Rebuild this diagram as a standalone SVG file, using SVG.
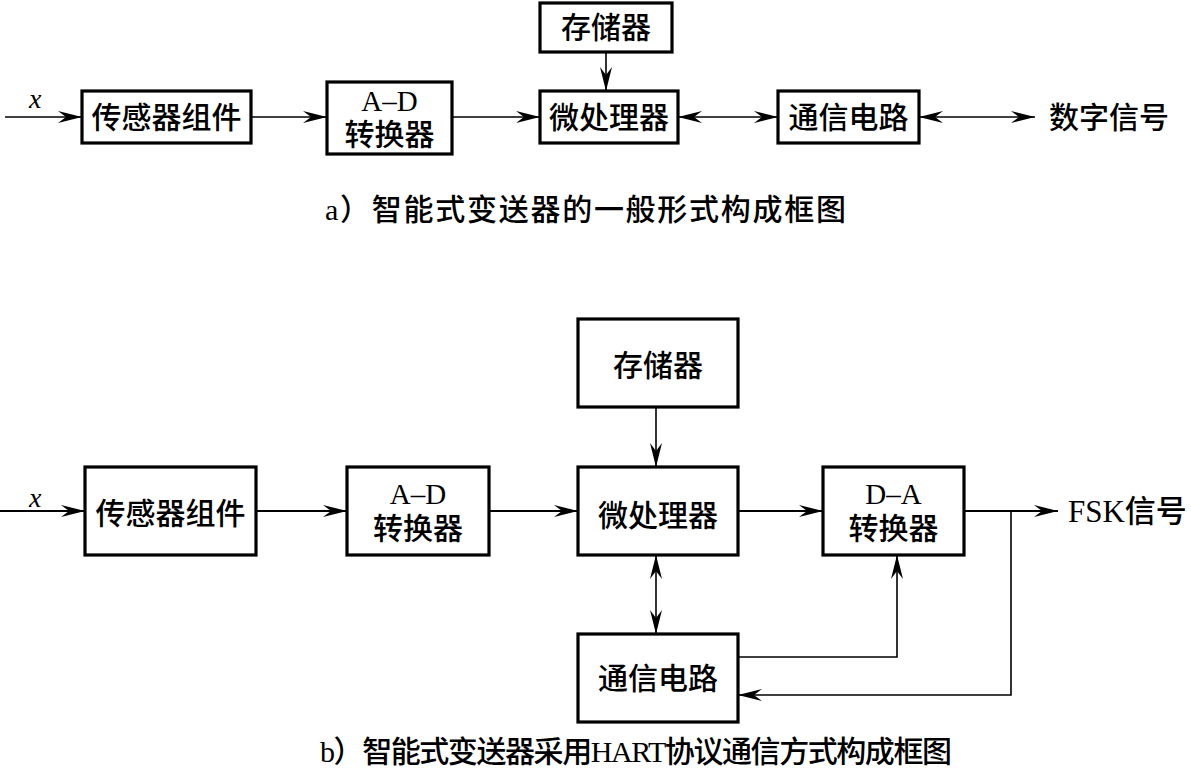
<svg xmlns="http://www.w3.org/2000/svg" width="1191" height="771" viewBox="0 0 1191 771">
<style>
.box{fill:#fff;stroke:#000;stroke-width:3.2}
.cn{fill:none;stroke:#000;stroke-width:1.6}
.cn2{fill:none;stroke:#000;stroke-width:2}
.t{font-family:"Liberation Serif","Noto Sans CJK SC",serif;font-size:30px;font-weight:500;fill:#000;text-anchor:middle;dominant-baseline:central}
.lt{font-family:"Liberation Serif","Noto Sans CJK SC",serif;font-size:29px;fill:#000;text-anchor:middle;dominant-baseline:central}
.cap{font-family:"Liberation Serif","Noto Sans CJK SC",serif;font-size:30px;font-weight:500;fill:#000}
.x{font-family:"Liberation Serif",serif;font-style:italic;font-size:28px;fill:#000}
</style>
<defs>
<marker id="ah" viewBox="-26 -7 27 14" refX="0" refY="0" markerWidth="27" markerHeight="14" markerUnits="userSpaceOnUse" orient="auto-start-reverse">
<path d="M0,0 L-24,-6 L-16,0 L-24,6 Z" fill="#000"/>
</marker>
</defs>
<rect width="1191" height="771" fill="#fff"/>

<g id="connectors-a">
<line class="cn" x1="5" y1="117" x2="82" y2="117" marker-end="url(#ah)"/>
<line class="cn" x1="251" y1="117" x2="327" y2="117" marker-end="url(#ah)"/>
<line class="cn" x1="452" y1="117" x2="540" y2="117" marker-end="url(#ah)"/>
<line class="cn" x1="606" y1="52" x2="606" y2="91" marker-end="url(#ah)"/>
<line class="cn" x1="678" y1="117" x2="778" y2="117" marker-start="url(#ah)" marker-end="url(#ah)"/>
<line class="cn" x1="919" y1="117" x2="1035" y2="117" marker-start="url(#ah)" marker-end="url(#ah)"/>
</g>
<text class="x" x="29" y="108">x</text>

<g id="a-sensor"><rect class="box" x="82" y="91" width="169" height="52"/><text class="t" x="166.5" y="117">传感器组件</text></g>
<g id="a-ad"><rect class="box" x="327" y="82" width="125" height="72"/><text class="lt" x="389.5" y="101">A–D</text><text class="t" x="389.5" y="134">转换器</text></g>
<g id="a-mem"><rect class="box" x="540" y="3" width="132" height="49"/><text class="t" x="606" y="27">存储器</text></g>
<g id="a-cpu"><rect class="box" x="540" y="91" width="138" height="52"/><text class="t" x="609" y="117">微处理器</text></g>
<g id="a-comm"><rect class="box" x="778" y="91" width="141" height="52"/><text class="t" x="848.5" y="117">通信电路</text></g>
<text class="t" x="1109" y="117">数字信号</text>
<text class="cap" x="325" y="220" textLength="521" lengthAdjust="spacing">a）智能式变送器的一般形式构成框图</text>

<g id="connectors-b">
<line class="cn2" x1="0" y1="511" x2="85" y2="511" marker-end="url(#ah)"/>
<line class="cn2" x1="256" y1="511" x2="347" y2="511" marker-end="url(#ah)"/>
<line class="cn2" x1="489" y1="511" x2="578" y2="511" marker-end="url(#ah)"/>
<line class="cn2" x1="738" y1="511" x2="823" y2="511" marker-end="url(#ah)"/>
<line class="cn2" x1="964" y1="511" x2="1058" y2="511" marker-end="url(#ah)"/>
<line class="cn" x1="656" y1="407" x2="656" y2="467" marker-end="url(#ah)"/>
<line class="cn" x1="656" y1="555" x2="656" y2="634" marker-start="url(#ah)" marker-end="url(#ah)"/>
<polyline class="cn" points="738,657 897,657 897,555" marker-end="url(#ah)"/>
<polyline class="cn" points="1011,511 1011,695 738,695" marker-end="url(#ah)"/>
</g>
<text class="x" x="29" y="507">x</text>

<g id="b-sensor"><rect class="box" x="85" y="467" width="171" height="88"/><text class="t" x="170.5" y="513">传感器组件</text></g>
<g id="b-ad"><rect class="box" x="347" y="467" width="142" height="88"/><text class="lt" x="418" y="494">A–D</text><text class="t" x="418" y="528">转换器</text></g>
<g id="b-mem"><rect class="box" x="578" y="319" width="160" height="88"/><text class="t" x="658" y="365">存储器</text></g>
<g id="b-cpu"><rect class="box" x="578" y="467" width="160" height="88"/><text class="t" x="658" y="515">微处理器</text></g>
<g id="b-da"><rect class="box" x="823" y="467" width="141" height="88"/><text class="lt" x="893.5" y="494">D–A</text><text class="t" x="893.5" y="528">转换器</text></g>
<g id="b-comm"><rect class="box" x="578" y="634" width="160" height="88"/><text class="t" x="658" y="678">通信电路</text></g>
<text class="t" x="1068" y="511" style="text-anchor:start;font-size:31px">FSK信号</text>
<text class="cap" x="320" y="762" textLength="632" lengthAdjust="spacing">b）智能式变送器采用HART协议通信方式构成框图</text>
</svg>
